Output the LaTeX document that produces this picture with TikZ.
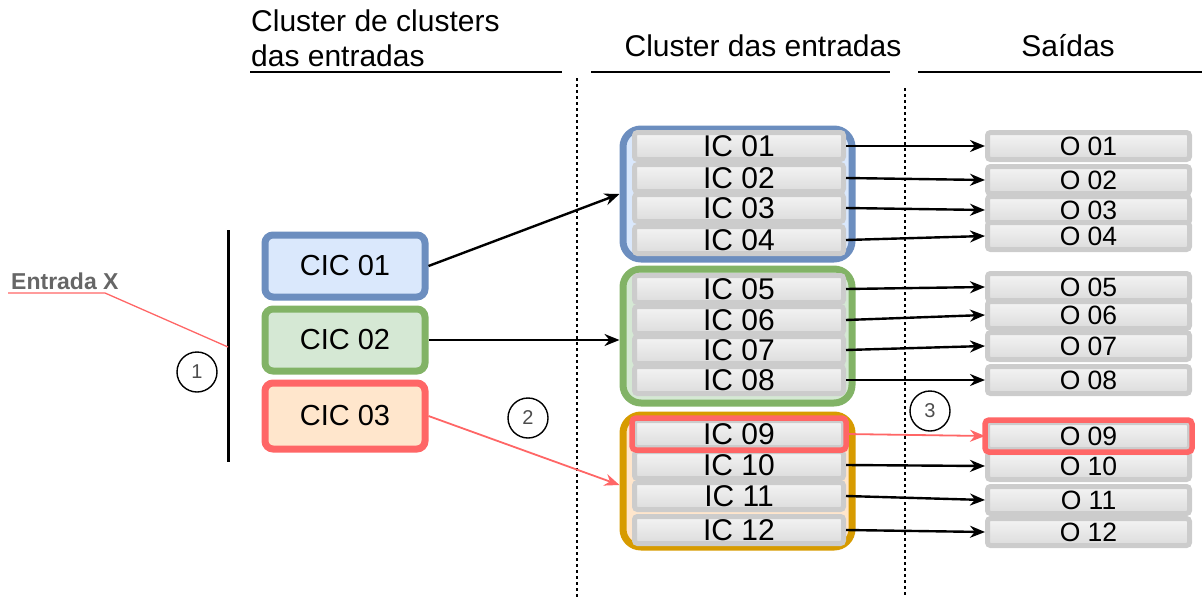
\documentclass[tikz,border=0pt]{standalone}
\usepackage{fontspec}
\setmainfont{Liberation Sans}
\usetikzlibrary{arrows.meta}
\definecolor{bluedraw}{HTML}{6C8EBF}
\definecolor{bluefill}{HTML}{DAE8FC}
\definecolor{greendraw}{HTML}{82B366}
\definecolor{greenfill}{HTML}{D5E8D4}
\definecolor{orangedraw}{HTML}{D79B00}
\definecolor{orangefill}{HTML}{FFE6CC}
\definecolor{hlred}{HTML}{FF6666}
\definecolor{cellgray}{HTML}{CCCCCC}
\definecolor{cellhi}{HTML}{F4F4F4}
\definecolor{celllo}{HTML}{DCDCDC}
\definecolor{labelgray}{HTML}{666666}
\tikzset{
  header/.style={font=\fontsize{30}{35}\selectfont,inner sep=0pt},
  cicbox/.style={rounded corners=8pt,line width=7pt,minimum width=160,minimum height=62,font=\fontsize{29}{29}\selectfont},
  grpbox/.style={rounded corners=18pt,line width=7pt,minimum width=229},
  iccell/.style={draw=cellgray,line width=5pt,rounded corners=3pt,top color=cellhi,bottom color=celllo,
    minimum width=209,minimum height=27,inner sep=0pt,font=\fontsize{30}{30}\selectfont},
  ocell/.style={iccell,minimum width=202,font=\fontsize{26.5}{26.5}\selectfont},
  num/.style={circle,draw,line width=1.4pt,minimum size=40,inner sep=0pt,text=black!70,font=\fontsize{20}{20}\selectfont},
  link/.style={line width=2.4pt,-{Stealth[length=15pt,width=12pt]}},
  redlink/.style={link,draw=hlred,line width=1.8pt},
  sep/.style={line width=1.3pt,dash pattern=on 3pt off 3pt}
}
\begin{document}
\begin{tikzpicture}[x=1pt,y=-1pt]
\useasboundingbox (0,0) rectangle (1202,597);

% headers
\node[header,align=left,anchor=north west] (hcic) at (251,10) {Cluster de clusters\\das entradas};
\node[header] (hic) at (763,46) {Cluster das entradas};
\node[header] (hout) at (1068,46) {Saídas};
\draw[line width=1.3pt] (250,72) -- (562,72);
\draw[line width=1.3pt] (591,72) -- (890,72);
\draw[line width=1.3pt] (918,72) -- (1202,72);
\draw[sep] (577,78) -- (577,597);
\draw[sep] (905,88) -- (905,597);

% input
\node[anchor=base west,text=labelgray,font=\bfseries\fontsize{23}{23}\selectfont,inner sep=0pt] (entx) at (11,289) {Entrada X};
\coordinate (ulstart) at (8,293);
\coordinate (ulend) at (105,293);
\coordinate (bartop) at (228,230);
\coordinate (barbot) at (228,462);
\coordinate (barx) at (228,347);
\draw[line width=3pt] (bartop) -- (barbot);
\draw[hlred,line width=1.3pt] (ulstart) -- (ulend) -- (barx);
\node[num] (n1) at (197,372) {1};
\node[num] (n2) at (528,418) {2};
\node[num] (n3) at (930,411) {3};

% clusters of clusters
\node[cicbox,draw=bluedraw,fill=bluefill] (cic1) at (345,266) {CIC 01};
\node[cicbox,draw=greendraw,fill=greenfill] (cic2) at (345,340) {CIC 02};
\node[cicbox,draw=hlred,fill=orangefill,minimum height=66] (cic3) at (345,416) {CIC 03};

% clusters
\node[grpbox,draw=bluedraw,fill=bluefill,minimum height=130] (grp1) at (737.5,194) {};
\node[grpbox,draw=greendraw,fill=greenfill,minimum height=134] (grp2) at (737.5,336) {};
\node[grpbox,draw=orangedraw,fill=orangefill,minimum height=132] (grp3) at (737.5,481) {};

\foreach \n/\y in {01/146,02/178,03/208,04/240,05/289,06/320,07/350,08/380,09/434,10/465,11/496,12/530}
  \node[iccell] (ic\n) at (739,\y) {IC \n};
\draw[hlred,line width=5.5pt,rounded corners=4pt] (ic09.north west) rectangle (ic09.south east);

% outputs
\foreach \n/\y in {01/146,02/180,03/210,04/236,05/287,06/315,07/346,08/380,09/436,10/466,11/500,12/532}
  \node[ocell] (o\n) at (1088.5,\y) {O \n};
\draw[hlred,line width=5.5pt,rounded corners=4pt] (o09.north west) rectangle (o09.south east);

% connectors
\draw[link] (cic1.east) -- (grp1.west);
\draw[link] (cic2.east) -- (grp2.west |- cic2.east);
\draw[redlink] (cic3.east) -- ([yshift=-4pt]grp3.west);
\foreach \n in {01,02,03,04,05,06,07,08,10,11,12}
  \draw[link] (ic\n.east) -- (o\n.west);
\draw[redlink] (ic09.east) -- (o09.west);

\end{tikzpicture}
\end{document}
